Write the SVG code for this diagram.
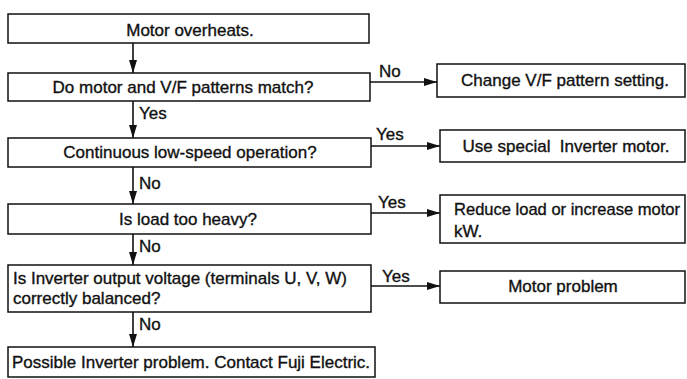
<svg xmlns="http://www.w3.org/2000/svg" width="687" height="379" viewBox="0 0 687 379">
<defs>
<marker id="ah" viewBox="0 0 13 8" refX="13" refY="4" markerWidth="13" markerHeight="8" markerUnits="userSpaceOnUse" orient="auto">
<path d="M0,0 L13,4 L0,8 z" fill="#111"/>
</marker>
<style>
.box{fill:#fff;stroke:#111;stroke-width:1.5}
.t{font-family:"Liberation Sans",Arial,sans-serif;font-size:17px;fill:#111;stroke:#111;stroke-width:0.35}
.c{text-anchor:middle}
.ln{fill:none;stroke:#111;stroke-width:1.6;marker-end:url(#ah)}
</style>
</defs>
<rect width="687" height="379" fill="#fff"/>
<g id="connectors">
<line class="ln" x1="133" y1="43" x2="133" y2="73"/>
<line class="ln" x1="133" y1="101" x2="133" y2="138"/>
<line class="ln" x1="133" y1="167" x2="133" y2="204"/>
<line class="ln" x1="133" y1="234" x2="133" y2="265"/>
<line class="ln" x1="133" y1="312" x2="133" y2="347"/>
<line class="ln" x1="370" y1="82" x2="437" y2="82"/>
<line class="ln" x1="371" y1="146" x2="440" y2="146"/>
<line class="ln" x1="371" y1="213" x2="440" y2="213"/>
<line class="ln" x1="371" y1="286" x2="440" y2="286"/>
<text class="t" x="379" y="77">No</text>
<text class="t" x="139" y="119">Yes</text>
<text class="t" x="376" y="140">Yes</text>
<text class="t" x="139" y="189">No</text>
<text class="t" x="378" y="208">Yes</text>
<text class="t" x="139" y="252">No</text>
<text class="t" x="382" y="282">Yes</text>
<text class="t" x="139" y="330">No</text>
</g>
<g id="n1"><rect class="box" x="8" y="14" width="361" height="29"/><text class="t c" x="190" y="36">Motor overheats.</text></g>
<g id="n2"><rect class="box" x="8" y="73" width="362" height="28"/><text class="t c" x="183" y="93">Do motor and V/F patterns match?</text></g>
<g id="n3"><rect class="box" x="8" y="138" width="363" height="29"/><text class="t c" x="190" y="158">Continuous low-speed operation?</text></g>
<g id="n4"><rect class="box" x="8" y="204" width="363" height="30"/><text class="t c" x="188" y="225">Is load too heavy?</text></g>
<g id="n5"><rect class="box" x="8" y="265" width="363" height="47"/><text class="t" x="13" y="284">Is Inverter output voltage (terminals U, V, W)</text><text class="t" x="13" y="304">correctly balanced?</text></g>
<g id="n6"><rect class="box" x="8" y="347" width="367" height="30"/><text class="t" x="12" y="368">Possible Inverter problem. Contact Fuji Electric.</text></g>
<g id="r1"><rect class="box" x="437" y="64" width="248" height="33"/><text class="t c" x="565" y="86">Change V/F pattern setting.</text></g>
<g id="r2"><rect class="box" x="440" y="130" width="245" height="32"/><text class="t c" x="566" y="152" xml:space="preserve">Use special  Inverter motor.</text></g>
<g id="r3"><rect class="box" x="440" y="195" width="245" height="48"/><text class="t" x="454" y="215" textLength="226" lengthAdjust="spacingAndGlyphs">Reduce load or increase motor</text><text class="t" x="454" y="237">kW.</text></g>
<g id="r4"><rect class="box" x="440" y="271" width="245" height="32"/><text class="t c" x="563" y="292">Motor problem</text></g>
</svg>
